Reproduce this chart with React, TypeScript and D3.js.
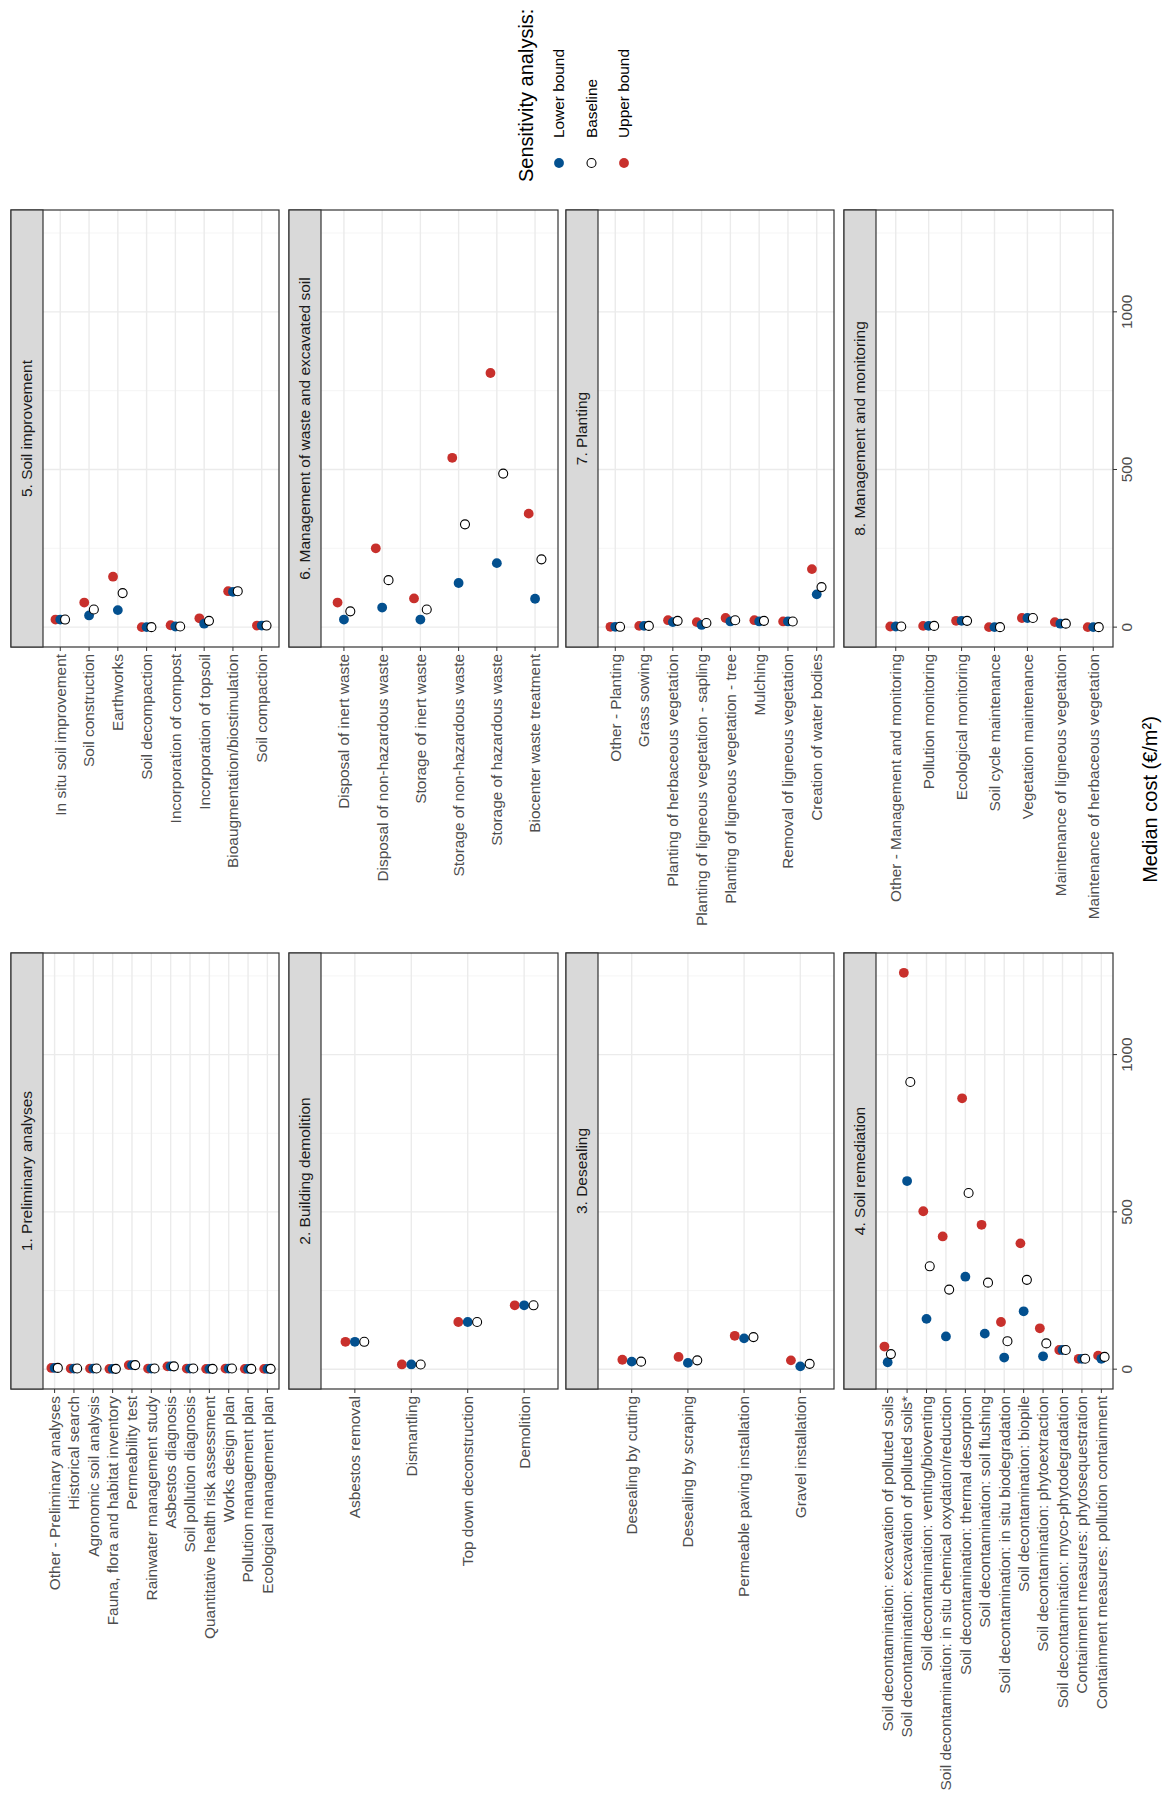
import React from "react";
import * as d3 from "d3";

// ---- data (€/m²) ----
const titles = [
  "1. Preliminary analyses",
  "2. Building demolition",
  "3. Desealing",
  "4. Soil remediation",
  "5. Soil improvement",
  "6. Management of waste and excavated soil",
  "7. Planting",
  "8. Management and monitoring",
];

const cats1 = ["Other - Preliminary analyses", "Historical search", "Agronomic soil analysis", "Fauna, flora and habitat inventory", "Permeability test", "Rainwater management study", "Asbestos diagnosis", "Soil pollution diagnosis", "Quantitative health risk assessment", "Works design plan", "Pollution management plan", "Ecological management plan"];
const low1 = [4, 2, 2, 1, 13, 2, 9, 2, 1, 2, 1, 1];
const base1 = [4, 2, 2, 1, 13, 2, 9, 2, 1, 2, 1, 1];
const up1 = [4, 2, 2, 1, 13, 2, 9, 2, 1, 2, 1, 1];

const cats2 = ["Asbestos removal", "Dismantling", "Top down deconstruction", "Demolition"];
const low2 = [87, 15, 150, 203];
const base2 = [87, 15, 150, 203];
const up2 = [87, 15, 150, 203];

const cats3 = ["Desealing by cutting", "Desealing by scraping", "Permeable paving installation", "Gravel installation"];
const low3 = [24, 20, 98, 9];
const base3 = [24, 28, 102, 17];
const up3 = [30, 39, 106, 28];

const cats4 = ["Soil decontamination: excavation of polluted soils", "Soil decontamination: excavation of polluted soils*", "Soil decontamination: venting/bioventing", "Soil decontamination: in situ chemical oxydation/reduction", "Soil decontamination: thermal desorption", "Soil decontamination: soil flushing", "Soil decontamination: in situ biodegradation", "Soil decontamination: biopile", "Soil decontamination: phytoextraction", "Soil decontamination: myco-phytodegradation", "Containment measures: phytosequestration", "Containment measures: pollution containment"];
const low4 = [22, 598, 160, 104, 294, 113, 37, 184, 41, 61, 33, 33];
const base4 = [48, 913, 327, 253, 560, 275, 89, 284, 82, 61, 33, 39];
const up4 = [72, 1260, 502, 422, 861, 459, 150, 400, 130, 61, 33, 43];

const cats5 = ["In situ soil improvement", "Soil construction", "Earthworks", "Soil decompaction", "Incorporation of compost", "Incorporation of topsoil", "Bioaugmentation/biostimulation", "Soil compaction"];
const low5 = [24, 37, 54, 0, 2, 11, 112, 5];
const base5 = [24, 56, 108, 0, 2, 20, 114, 5];
const up5 = [24, 78, 160, 0, 6, 28, 114, 5];

const cats6 = ["Disposal of inert waste", "Disposal of non-hazardous waste", "Storage of inert waste", "Storage of non-hazardous waste", "Storage of hazardous waste", "Biocenter waste treatment"];
const low6 = [24, 62, 24, 140, 203, 90];
const base6 = [50, 149, 56, 326, 487, 215];
const up6 = [78, 250, 91, 537, 806, 360];

const cats7 = ["Other - Planting", "Grass sowing", "Planting of herbaceous vegetation", "Planting of ligneous vegetation - sapling", "Planting of ligneous vegetation - tree", "Mulching", "Removal of ligneous vegetation", "Creation of water bodies"];
const low7 = [1, 4, 16, 7, 18, 18, 18, 104];
const base7 = [1, 4, 20, 13, 22, 20, 18, 127];
const up7 = [1, 4, 22, 16, 29, 22, 18, 184];

const cats8 = ["Other - Management and monitoring", "Pollution monitoring", "Ecological monitoring", "Soil cycle maintenance", "Vegetation maintenance", "Maintenance of ligneous vegetation", "Maintenance of herbaceous vegetation"];
const low8 = [2, 4, 20, 0, 29, 11, 0];
const base8 = [2, 4, 20, 0, 29, 11, 0];
const up8 = [2, 4, 20, 0, 29, 16, 0];

const legendLabels = ["Lower bound", "Baseline", "Upper bound"];
const costTicks = [0, 500, 1000];
const minorTicks = [250, 750, 1250];

const panels = [
  { cats: cats1, low: low1, base: base1, up: up1 },
  { cats: cats2, low: low2, base: base2, up: up2 },
  { cats: cats3, low: low3, base: base3, up: up3 },
  { cats: cats4, low: low4, base: base4, up: up4 },
  { cats: cats5, low: low5, base: base5, up: up5 },
  { cats: cats6, low: low6, base: base6, up: up6 },
  { cats: cats7, low: low7, base: base7, up: up7 },
  { cats: cats8, low: low8, base: base8, up: up8 },
];

const RED = "#C8302C";
const BLUE = "#03508F";
const FONT = "Liberation Sans, Arial, sans-serif";

// layout, in the unrotated frame (the whole figure is turned -90°)
const W = 1818;
const colU: [number, number][] = [[429, 865], [1171, 1608]];
const rowV: [number, number][] = [[11, 279], [289, 558], [566, 834], [844, 1113]];
const stripH = 32;

export default function App() {
  return (
    <svg width={1165} height={1818} style={{ position: "absolute", left: 0, top: 0, background: "#fff" }}>
      <g transform={`translate(0,${W}) rotate(-90)`} fontFamily={FONT}>
        {panels.map((p, i) => {
          const col = i < 4 ? 0 : 1;
          const row = i % 4;
          const [u0, u1] = colU[col];
          const [v0, v1] = rowV[row];
          const x = d3.scaleLinear().domain([-63, 1323]).range([u0, u1]);
          const y = d3.scalePoint<string>().domain(p.cats).range([v0 + stripH, v1]).padding(0.6);
          const d = y.step() / 6;
          return (
            <g key={i}>
              <rect x={u0} y={v0 + stripH} width={u1 - u0} height={v1 - v0 - stripH} fill="#fff" />
              {minorTicks.map((t) => (
                <line key={"m" + t} x1={x(t)} x2={x(t)} y1={v0 + stripH} y2={v1} stroke="#F2F2F2" strokeWidth={0.8} />
              ))}
              {costTicks.map((t) => (
                <line key={"g" + t} x1={x(t)} x2={x(t)} y1={v0 + stripH} y2={v1} stroke="#EBEBEB" strokeWidth={1.4} />
              ))}
              {p.cats.map((c) => (
                <line key={"c" + c} x1={u0} x2={u1} y1={y(c)} y2={y(c)} stroke="#EBEBEB" strokeWidth={1.4} />
              ))}
              {p.cats.map((c, j) => (
                <g key={"p" + c}>
                  <circle cx={x(p.up[j])} cy={y(c)! - d} r={4.9} fill={RED} />
                  <circle cx={x(p.low[j])} cy={y(c)!} r={4.9} fill={BLUE} />
                  <circle cx={x(p.base[j])} cy={y(c)! + d} r={4.5} fill="#fff" stroke="#000" strokeWidth={1.1} />
                </g>
              ))}
              <rect x={u0} y={v0} width={u1 - u0} height={v1 - v0} fill="none" stroke="#333" strokeWidth={1.2} />
              <rect x={u0} y={v0} width={u1 - u0} height={stripH} fill="#D9D9D9" stroke="#333" strokeWidth={1.2} />
              <text x={(u0 + u1) / 2} y={v0 + stripH / 2} dy="0.35em" textAnchor="middle" fontSize={15.5} fill="#1A1A1A">
                {titles[i]}
              </text>
              {p.cats.map((c) => (
                <g key={"t" + c}>
                  <line x1={u0 - 4} x2={u0} y1={y(c)} y2={y(c)} stroke="#333" strokeWidth={1} />
                  <text x={u0 - 7} y={y(c)} dy="0.35em" textAnchor="end" fontSize={15.4} fill="#4D4D4D">
                    {c}
                  </text>
                </g>
              ))}
              {row === 3 &&
                costTicks.map((t) => (
                  <g key={"x" + t}>
                    <line x1={x(t)} x2={x(t)} y1={v1} y2={v1 + 4} stroke="#333" strokeWidth={1} />
                    <text x={x(t)} y={v1 + 19} textAnchor="middle" fontSize={15.4} fill="#4D4D4D">
                      {t}
                    </text>
                  </g>
                ))}
            </g>
          );
        })}
        <text x={(colU[0][0] + colU[1][1]) / 2} y={1157} textAnchor="middle" fontSize={20} fill="#000">
          Median cost (€/m²)
        </text>
        <g>
          <text x={1636} y={533} fontSize={20} fill="#000">Sensitivity analysis:</text>
          {legendLabels.map((l, k) => {
            const cy = 559 + k * 32.5;
            return (
              <g key={l}>
                {k === 0 && <circle cx={1655} cy={cy} r={4.9} fill={BLUE} />}
                {k === 1 && <circle cx={1655} cy={cy} r={4.5} fill="#fff" stroke="#000" strokeWidth={1.1} />}
                {k === 2 && <circle cx={1655} cy={cy} r={4.9} fill={RED} />}
                <text x={1680} y={cy} dy="0.35em" fontSize={15.4} fill="#000">{l}</text>
              </g>
            );
          })}
        </g>
      </g>
    </svg>
  );
}
